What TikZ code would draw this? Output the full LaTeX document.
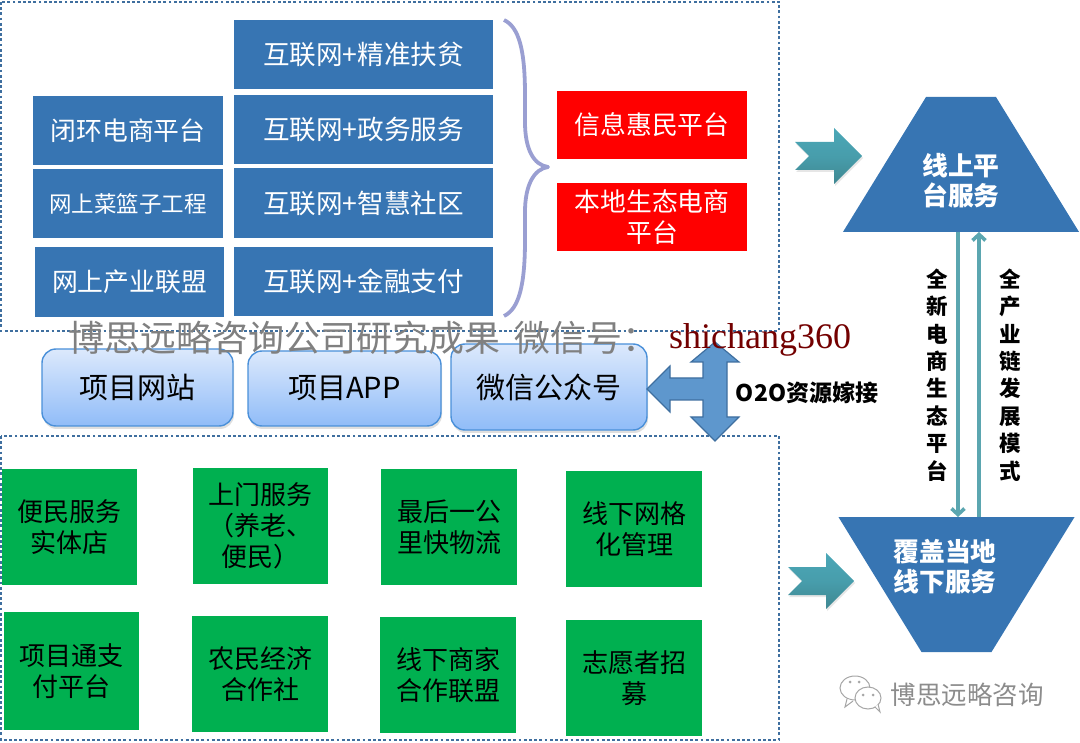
\documentclass[tikz,border=0pt]{standalone}
\usepackage{fontspec}
\setmainfont{Noto Sans CJK SC}
\newfontfamily\latinserif{Liberation Serif}
\usepackage{xcolor}
\usetikzlibrary{arrows.meta, positioning, shapes.geometric, shadows}
\definecolor{boxblue}{HTML}{3775B3}
\definecolor{framedot}{HTML}{3F6F9F}
\definecolor{leafgreen}{HTML}{00B050}
\definecolor{bracelilac}{HTML}{9A9FD2}
\definecolor{tealline}{HTML}{5BA6B0}
\definecolor{tealtop}{HTML}{4BA7B7}
\definecolor{tealbottom}{HTML}{3F8791}
\definecolor{crossblue}{HTML}{5E97CD}
\definecolor{apptop}{HTML}{DCE9FC}
\definecolor{appbottom}{HTML}{90BCF8}
\definecolor{appedge}{HTML}{4A90D9}

\begin{document}
\begin{tikzpicture}[x=1pt, y=-1pt, >={Straight Barb[length=6pt, width=13pt]},
    every node/.style={inner sep=0pt, align=center},
    bluebox/.style={fill=boxblue, text=white, minimum width=#1, font=\fontsize{25.8}{31}\selectfont},
    redbox/.style={fill=red, text=white, minimum width=190pt, minimum height=68pt, font=\fontsize{25.8}{31}\selectfont},
    greenbox/.style={fill=leafgreen, minimum width=136pt, minimum height=116pt, font=\fontsize{26}{31}\selectfont},
    appbox/.style={draw=appedge, line width=1.4pt, rounded corners=14pt, top color=apptop, bottom color=appbottom,
        drop shadow={shadow xshift=1pt, shadow yshift=-3pt, opacity=.25}, font=\fontsize{29}{34}\selectfont},
    dotframe/.style={draw=framedot, line width=2.8pt, dash pattern=on 2.8pt off 2.4pt},
    chevron/.style={top color=tealtop, bottom color=tealbottom, middle color=tealtop!70!tealbottom, drop shadow={shadow xshift=1pt, shadow yshift=-2pt, opacity=.2}},
    platform/.style={trapezium, fill=boxblue, trapezium left angle=58.4, trapezium right angle=58.4,
        text width=70pt, text height=135pt, text depth=0pt},
    platformtext/.style={text=white, font=\fontsize{25.8}{30}\bfseries\selectfont},
    stacklabel/.style={font=\fontsize{21.5}{27.4}\bfseries\selectfont},
    linkline/.style={draw=tealline, line width=3.6pt},
    grayword/.style={text=black!45}]
    \useasboundingbox (0,0) rectangle (1080,743);

    \draw[dotframe] (1,2) rectangle (779,331);
    \draw[dotframe] (1,436) rectangle (779,740);

    \node[bluebox=190pt, minimum height=69pt] (closedloop) at (128,131) {闭环电商平台};
    \node[bluebox=190pt, minimum height=69pt, font=\fontsize{22.5}{30}\selectfont] (basket) at (128,203.5) {网上菜篮子工程};
    \node[bluebox=189pt, minimum height=70pt] (alliance) at (129.5,282) {网上产业联盟};
    \node[bluebox=259pt, minimum height=69pt, font=\fontsize{26.6}{30}\selectfont] (poverty) at (363.5,54.5) {互联网+精准扶贫};
    \node[bluebox=259pt, minimum height=69pt, font=\fontsize{26.6}{30}\selectfont] (govern) at (363.5,129.5) {互联网+政务服务};
    \node[bluebox=259pt, minimum height=70pt, font=\fontsize{26.6}{30}\selectfont] (community) at (363.5,203) {互联网+智慧社区};
    \node[bluebox=259pt, minimum height=69pt, font=\fontsize{26.6}{30}\selectfont] (finance) at (363.5,281.5) {互联网+金融支付};

    \draw[bracelilac, line width=3.8pt, line join=round] (504,20) .. controls (519,27) and (525,50) .. (525,95)
        -- (525,122) .. controls (525,150) and (534,165) .. (548,167)
        .. controls (534,169) and (525,185) .. (525,212) -- (525,240)
        .. controls (525,285) and (519,309) .. (504,316);

    \node[redbox] (infoplat) at (652,125) {信息惠民平台};
    \node[redbox] (localplat) at (652,217) {本地生态电商\\平台};

    \path[chevron] (795,142) -- (834,142) -- (834,128) -- (862,156) -- (834,184) -- (834,170) -- (795,170) -- (809,156) -- cycle;
    \path[chevron] (788,567) -- (826,567) -- (826,553) -- (854,581) -- (826,609) -- (826,595) -- (788,595) -- (802,581) -- cycle;

    \node[platform] (online) at (961,164.5) {};
    \node[platformtext] (onlinetext) at (961,181) {线上平\\台服务};
    \node[platform, shape border rotate=180] (offline) at (956.5,584.5) {};
    \node[platformtext] (offlinetext) at (945,567) {覆盖当地\\线下服务};

    \coordinate (downstart) at (958,232);
    \coordinate (downend) at (958,517);
    \coordinate (upstart) at (979,517);
    \coordinate (upend) at (979,232);
    \draw[linkline, ->] (downstart) -- (downend);
    \draw[linkline, ->] (upstart) -- (upend);
    \node[stacklabel] (ecolabel) at (937,375) {全\\新\\电\\商\\生\\态\\平\\台};
    \node[stacklabel] (chainlabel) at (1010,375) {全\\产\\业\\链\\发\\展\\模\\式};

    \node[appbox, minimum width=191pt, minimum height=77pt] (website) at (137.5,387.5) {项目网站};
    \node[appbox, minimum width=193pt, minimum height=75pt] (appitem) at (344.5,388.5) {项目APP};
    \node[appbox, minimum width=196pt, minimum height=86pt] (wechat) at (549,387) {微信公众号};

    \draw[fill=crossblue, draw=framedot, line width=1.2pt] (647,389) -- (670,366) -- (670,378) -- (703,378) -- (703,362) -- (691,362)
        -- (715,342) -- (739,362) -- (727,362) -- (727,417) -- (739,417) -- (715,441) -- (691,417) -- (703,417) -- (703,400)
        -- (670,400) -- (670,412) -- cycle;
    \node[font=\fontsize{23}{26}\bfseries\selectfont] (o2olabel) at (807,393) {O2O资源嫁接};

    \node[greenbox, minimum width=135pt] (store) at (69.5,527) {便民服务\\实体店};
    \node[greenbox, minimum width=135pt] (homecare) at (260.5,526) {上门服务\\（养老、\\便民）};
    \node[greenbox] (lastmile) at (449,527) {最后一公\\里快物流};
    \node[greenbox] (gridmanage) at (634,529) {线下网格\\化管理};
    \node[greenbox, minimum width=135pt, minimum height=118pt] (paytong) at (71.5,671) {项目通支\\付平台};
    \node[greenbox] (coop) at (260,674) {农民经济\\合作社};
    \node[greenbox] (merchant) at (448,675) {线下商家\\合作联盟};
    \node[greenbox] (volunteer) at (634,678) {志愿者招\\募};

    \draw[black!35, fill=white, line width=1pt] (855,688) ellipse (15 and 12);
    \draw[black!35, fill=white, line width=1pt] (847,699) -- (845,707) -- (853,701);
    \draw[black!35, fill=white, line width=1pt] (868,698) ellipse (13 and 11);
    \draw[black!35, fill=white, line width=1pt] (875,707) -- (880,712) -- (878,704);
    \fill[black!35] (850,682) circle (1.5) (859,682) circle (1.5) (863,695) circle (1.5) (873,695) circle (1.5);
    \node[grayword, font=\fontsize{25.5}{30}\selectfont] (brandname) at (967,695) {博思远略咨询};

    \node[grayword, text=black!50, font=\fontsize{36}{40}\selectfont, anchor=west] (watermark) at (68,338) {博思远略咨询公司研究成果\hspace{14pt}微信号：};
    \node[text=red!45!black, font=\fontsize{36}{40}\latinserif\selectfont, anchor=west] (wechatid) at (669,340) {shichang360};
\end{tikzpicture}
\end{document}
